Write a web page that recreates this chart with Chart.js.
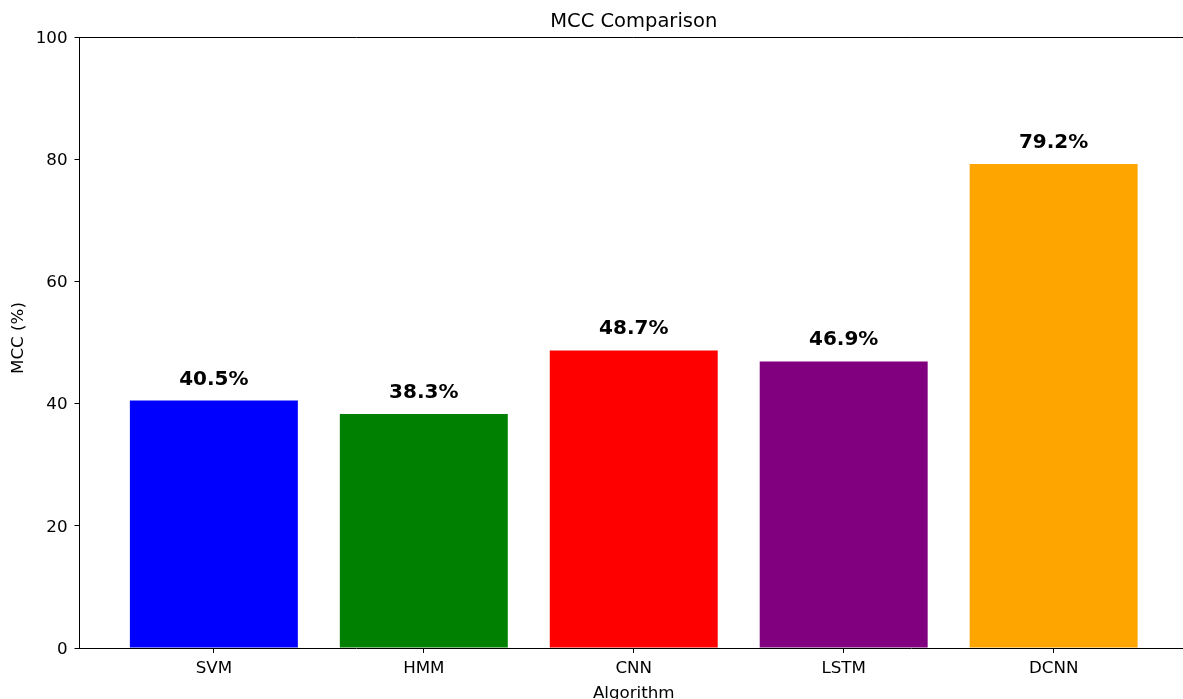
<!DOCTYPE html>
<html>
<head>
<meta charset="utf-8">
<script src="https://cdn.jsdelivr.net/npm/chart.js@4"></script>
<style>
  html, body { margin: 0; padding: 0; overflow: hidden; background: #fff; }
  #wrap { width: 1192px; height: 705px; }
</style>
</head>
<body>
<div id="wrap"><canvas id="mcc-chart" width="1192" height="705"></canvas></div>
<script>
const algorithms = ["SVM", "HMM", "CNN", "LSTM", "DCNN"];
const mccValues = [40.5, 38.3, 48.7, 46.9, 79.2];
const barColors = ["#0000ff", "#008000", "#ff0000", "#800080", "#ffa500"];
const yTicks = [0, 20, 40, 60, 80, 100];

const FONT = "'DejaVu Sans', sans-serif";

// titulos y etiquetas encima de cada barra
const textPlugin = {
  id: "textPlugin",
  afterDatasetsDraw(chart) {
    const { ctx, chartArea, scales } = chart;
    const midX = scales.x.getPixelForValue(2);
    ctx.save();
    // borde superior y derecho (como matplotlib)
    ctx.strokeStyle = "#000";
    ctx.lineWidth = 1;
    ctx.beginPath();
    ctx.moveTo(chartArea.left, chartArea.top + 0.5);
    ctx.lineTo(chartArea.right, chartArea.top + 0.5);
    ctx.lineTo(chartArea.right, chartArea.bottom);
    ctx.stroke();

    ctx.fillStyle = "#000";
    ctx.textAlign = "center";
    ctx.textBaseline = "alphabetic";
    ctx.font = "19.5px " + FONT;
    ctx.fillText("MCC Comparison", midX, 27);

    ctx.font = "16.7px " + FONT;
    ctx.fillText("Algorithm", midX, 698);

    ctx.save();
    ctx.translate(23, 338);
    ctx.rotate(-Math.PI / 2);
    ctx.fillText("MCC (%)", 0, 0);
    ctx.restore();

    ctx.font = "bold 20px " + FONT;
    chart.getDatasetMeta(0).data.forEach((bar, i) => {
      ctx.fillText(mccValues[i].toFixed(1) + "%", bar.x, bar.y - 16);
    });
    ctx.restore();
  },
};

const ctx = document.getElementById("mcc-chart").getContext("2d");

const myChart = new Chart(ctx, {
  type: "bar",
  data: {
    datasets: [
      {
        label: "MCC (%)",
        data: mccValues.map((v, i) => ({ x: i, y: v })),
        backgroundColor: barColors,
        borderWidth: 0,
        barPercentage: 0.8,
        categoryPercentage: 1,
      },
    ],
  },
  options: {
    responsive: false,
    animation: false,
    layout: { padding: { top: 37, left: 0, right: 4, bottom: 0 } },
    plugins: {
      legend: { display: false },
      title: { display: false },
      tooltip: { enabled: false },
    },
    scales: {
      x: {
        type: "linear",
        offset: false,
        min: -0.64,
        max: 4.64,
        afterBuildTicks: (scale) => {
          scale.ticks = algorithms.map((_, i) => ({ value: i }));
        },
        afterFit: (scale) => {
          scale.height = 705 - 648;
        },
        ticks: {
          callback: (value) => algorithms[value],
          font: { family: FONT, size: 16.7 },
          color: "#000",
          padding: 6,
          maxRotation: 0,
          autoSkip: false,
        },
        grid: {
          offset: false,
          drawOnChartArea: false,
          drawTicks: true,
          tickLength: 5,
          color: "#000",
        },
        border: { color: "#000", width: 1 },
      },
      y: {
        min: 0,
        max: 100,
        afterBuildTicks: (scale) => {
          scale.ticks = yTicks.map((v) => ({ value: v }));
        },
        afterFit: (scale) => {
          scale.width = 79.5;
        },
        ticks: {
          font: { family: FONT, size: 16.7 },
          color: "#000",
          padding: 7,
          labelOffset: 1.5,
        },
        grid: {
          drawOnChartArea: false,
          drawTicks: true,
          tickLength: 5,
          color: "#000",
        },
        border: { color: "#000", width: 1 },
      },
    },
  },
  plugins: [textPlugin],
});
</script>
</body>
</html>
